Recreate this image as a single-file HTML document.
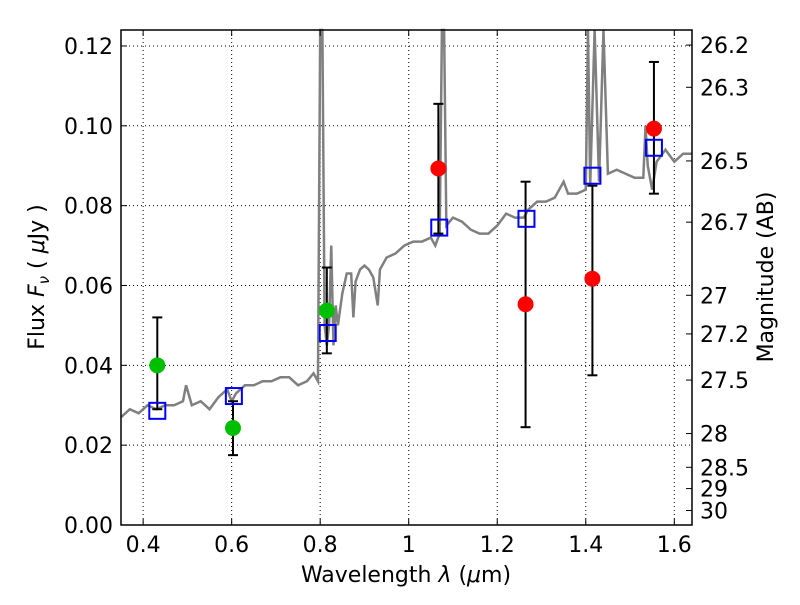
<!DOCTYPE html>
<html><head><meta charset="utf-8"><style>
body{margin:0;background:#fff}
svg text{font-family:"DejaVu Sans","Liberation Sans",sans-serif;font-size:22px}
</style></head><body>
<svg width="800" height="600">
<g id="grid"></g>
<g id="spec"></g>
<g id="pts"></g>
<g id="axes"></g>
<text x="406" y="582" text-anchor="middle">Wavelength  <tspan font-style="italic">λ</tspan> (<tspan font-style="italic">μ</tspan>m)</text>
<text transform="translate(44,277) rotate(-90)" text-anchor="middle">Flux  <tspan font-style="italic">F</tspan><tspan font-style="italic" font-size="15" dy="5">ν</tspan><tspan dy="-5">  (  </tspan><tspan font-style="italic">μ</tspan>Jy )</text>
<text transform="translate(773,277) rotate(-90)" text-anchor="middle">Magnitude (AB)</text>
</svg>
<script>
const xTicks=[0.4,0.6,0.8,1.0,1.2,1.4,1.6];
const xTickLabels=["0.4","0.6","0.8","1","1.2","1.4","1.6"];
const yTicks=[0,0.02,0.04,0.06,0.08,0.10,0.12];
const yTickLabels=["0.00","0.02","0.04","0.06","0.08","0.10","0.12"];
const magTicks=[26.2,26.3,26.5,26.7,27,27.2,27.5,28,28.5,29,30];
const specWave=[0.35,0.37,0.39,0.41,0.43,0.45,0.47,0.49,0.497,0.51,0.53,0.55,0.57,0.59,0.60,0.61,0.63,0.65,0.67,0.69,0.71,0.73,0.75,0.77,0.785,0.795,0.80,0.805,0.81,0.815,0.82,0.825,0.83,0.835,0.84,0.85,0.86,0.87,0.875,0.88,0.89,0.90,0.91,0.92,0.93,0.935,0.95,0.97,0.99,1.01,1.03,1.05,1.06,1.07,1.075,1.08,1.085,1.10,1.12,1.14,1.16,1.18,1.20,1.22,1.24,1.26,1.27,1.29,1.31,1.33,1.35,1.36,1.38,1.40,1.405,1.41,1.42,1.43,1.44,1.45,1.47,1.49,1.51,1.53,1.535,1.54,1.55,1.56,1.58,1.60,1.62,1.64];
const specFlux=[0.027,0.029,0.028,0.030,0.029,0.030,0.030,0.031,0.035,0.030,0.031,0.029,0.032,0.034,0.031,0.033,0.035,0.035,0.036,0.036,0.037,0.037,0.035,0.036,0.038,0.036,0.124,0.124,0.05,0.045,0.05,0.07,0.045,0.055,0.05,0.058,0.063,0.063,0.052,0.061,0.064,0.065,0.064,0.062,0.055,0.064,0.067,0.068,0.070,0.071,0.071,0.072,0.070,0.073,0.124,0.124,0.075,0.077,0.076,0.074,0.073,0.073,0.075,0.078,0.077,0.077,0.079,0.081,0.081,0.082,0.086,0.083,0.083,0.084,0.124,0.085,0.124,0.086,0.124,0.088,0.089,0.088,0.087,0.087,0.100,0.090,0.084,0.091,0.094,0.091,0.093,0.093];
const obsWave=[0.432,0.603,0.815,1.067,1.264,1.415,1.554];
const obsFlux=[0.040,0.0243,0.0537,0.0893,0.0553,0.0617,0.0993];
const obsLo=[0.029,0.0175,0.043,0.073,0.0245,0.0375,0.083];
const obsHi=[0.052,0.031,0.0645,0.1055,0.086,0.085,0.116];
const obsColor=["#00bf00","#00bf00","#00bf00","#ff0000","#ff0000","#ff0000","#ff0000"];
const modelWave=[0.432,0.605,0.817,1.069,1.266,1.415,1.554];
const modelFlux=[0.0286,0.0323,0.0481,0.0745,0.0767,0.0875,0.0945];
const L=121,R=692,T=30,B=525,xmin=0.35,xmax=1.64,ymin=0,ymax=0.124;
const X=v=>L+(v-xmin)/(xmax-xmin)*(R-L);
const Y=v=>B-(v-ymin)/(ymax-ymin)*(B-T);
const NS="http://www.w3.org/2000/svg";
function mk(p,t,a){const e=document.createElementNS(NS,t);for(const k in a)e.setAttribute(k,a[k]);p.appendChild(e);return e;}
const grid=document.getElementById('grid'),axes=document.getElementById('axes'),spec=document.getElementById('spec'),pts=document.getElementById('pts');
xTicks.forEach((v,i)=>{const x=X(v);
const g=mk(grid,'line',{x1:x,x2:x,y1:T,y2:B,stroke:'#000','stroke-dasharray':'1,3','stroke-width':1});

mk(axes,'line',{x1:x,x2:x,y1:B,y2:B-6,stroke:'#000'});mk(axes,'line',{x1:x,x2:x,y1:T,y2:T+6,stroke:'#000'});
const t=mk(axes,'text',{x:x,y:B+27,'text-anchor':'middle'});t.textContent=xTickLabels[i];
});
yTicks.forEach((v,i)=>{const y=Y(v);
if(v>0){const g=mk(grid,'line',{x1:L,x2:R,y1:y,y2:y,stroke:'#000','stroke-dasharray':'1,3','stroke-width':1});
}
mk(axes,'line',{x1:L,x2:L+6,y1:y,y2:y,stroke:'#000'});
const t=mk(axes,'text',{x:L-8,y:y+8,'text-anchor':'end'});t.textContent=yTickLabels[i];
});
magTicks.forEach(m=>{const f=Math.pow(10,(23.9-m)/2.5);const y=Y(f);
mk(axes,'line',{x1:R,x2:R-6,y1:y,y2:y,stroke:'#000'});
const t=mk(axes,'text',{x:R+8,y:y+8,'text-anchor':'start'});t.textContent=String(m);
});
const sp=mk(spec,'polyline',{points:specWave.map((w,i)=>X(w)+','+Y(Math.min(specFlux[i],0.13))).join(' '),fill:'none',stroke:'#808080','stroke-width':2.5});

obsWave.forEach((w,i)=>{const x=X(w);
const e=mk(pts,'g',{});
mk(e,'line',{x1:x,x2:x,y1:Y(obsLo[i]),y2:Y(obsHi[i]),stroke:'#000','stroke-width':2});
mk(e,'line',{x1:x-5,x2:x+5,y1:Y(obsLo[i]),y2:Y(obsLo[i]),stroke:'#000','stroke-width':2});
mk(e,'line',{x1:x-5,x2:x+5,y1:Y(obsHi[i]),y2:Y(obsHi[i]),stroke:'#000','stroke-width':2});});
modelWave.forEach((w,i)=>{const r=mk(pts,'rect',{x:X(w)-8,y:Y(modelFlux[i])-8,width:16,height:16,fill:'none',stroke:'#0000ff','stroke-width':2});
});
obsWave.forEach((w,i)=>{const c=mk(pts,'circle',{cx:X(w),cy:Y(obsFlux[i]),r:8,fill:obsColor[i]});
});
const fr=mk(axes,'rect',{x:L,y:T,width:R-L,height:B-T,fill:'none',stroke:'#000','stroke-width':1.5});

</script>
</body></html>
